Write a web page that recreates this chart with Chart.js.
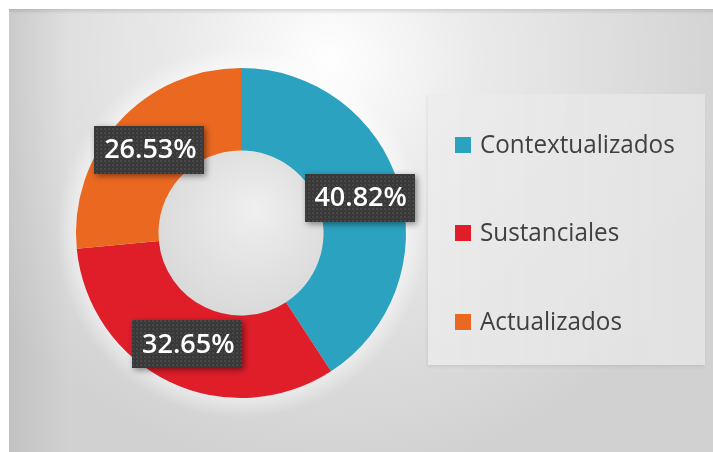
<!DOCTYPE html>
<html>
<head>
<meta charset="utf-8">
<script src="https://cdn.jsdelivr.net/npm/chart.js@4/dist/chart.umd.min.js"></script>
<style>
  html, body { margin: 0; padding: 0; background: #fff; }
  #wrap { position: relative; width: 713px; height: 452px; }
  #legend {
    position: absolute; left: 428px; top: 94px; width: 277px; height: 271px;
    background: linear-gradient(to right, rgba(236,236,236,0.75), rgba(230,230,230,0.8));
    box-shadow: -1px 2px 3px rgba(0,0,0,0.07);
    font-family: "Open Sans", sans-serif; color: #404040;
  }
  .item { position: absolute; left: 27px; height: 30px; display: flex; align-items: center; font-size: 25px; white-space: nowrap; }
  .item span:last-child { display: inline-block; transform: scaleX(0.97); transform-origin: left center; }
  .sw { width: 16px; height: 16px; margin-right: 9px; margin-top: 4px; }
</style>
</head>
<body>
<div id="wrap">
  <canvas id="c" width="713" height="452"></canvas>
  <div id="legend"></div>
</div>
<script>
// Datos: 49 elementos en total
const categorias = ['Contextualizados', 'Sustanciales', 'Actualizados'];
const valores = [20, 16, 13];
const colores = ['#2ba2c0', '#df1e2a', '#ea6820'];

// fondo gris con degradado, como la diapositiva original
const fondo = {
    id: 'fondo',
    beforeDraw(chart) {
        const ctx = chart.ctx;
        ctx.save();
        ctx.fillStyle = '#fff';
        ctx.fillRect(0, 0, 713, 452);
        ctx.fillStyle = '#d1d1d1';
        ctx.fillRect(9, 9, 704, 443);
        let g = ctx.createRadialGradient(330, 60, 0, 330, 60, 420);
        g.addColorStop(0, 'rgba(255,255,255,1)');
        g.addColorStop(0.35, 'rgba(255,255,255,0.55)');
        g.addColorStop(1, 'rgba(255,255,255,0)');
        ctx.fillStyle = g;
        ctx.fillRect(9, 9, 704, 443);
        g = ctx.createLinearGradient(9, 0, 70, 0);
        g.addColorStop(0, 'rgba(0,0,0,0.07)');
        g.addColorStop(1, 'rgba(0,0,0,0)');
        ctx.fillStyle = g;
        ctx.fillRect(9, 9, 61, 443);
        g = ctx.createLinearGradient(0, 9, 0, 14);
        g.addColorStop(0, 'rgba(0,0,0,0.12)');
        g.addColorStop(1, 'rgba(0,0,0,0)');
        ctx.fillStyle = g;
        ctx.fillRect(9, 9, 704, 5);

        // halo claro alrededor del anillo
        const arc = chart.getDatasetMeta(0).data[0];
        if (arc) {
            const r = arc.outerRadius;
            g = ctx.createRadialGradient(arc.x, arc.y, r - 2, arc.x, arc.y, r + 20);
            g.addColorStop(0, 'rgba(255,255,255,0.5)');
            g.addColorStop(1, 'rgba(255,255,255,0)');
            ctx.fillStyle = g;
            ctx.beginPath();
            ctx.arc(arc.x, arc.y, r + 20, 0, Math.PI * 2);
            ctx.fill();
            // sombra suave dentro del hueco
            const ri = arc.innerRadius;
            g = ctx.createRadialGradient(arc.x + 15, arc.y - 25, 0, arc.x, arc.y, ri);
            g.addColorStop(0, 'rgba(0,0,0,0.02)');
            g.addColorStop(1, 'rgba(0,0,0,0.09)');
            ctx.fillStyle = g;
            ctx.beginPath();
            ctx.arc(arc.x, arc.y, ri, 0, Math.PI * 2);
            ctx.fill();
        }
        ctx.restore();
    }
};

function patron(ctx) {
    const p = document.createElement('canvas');
    p.width = 4; p.height = 4;
    const c = p.getContext('2d');
    c.fillStyle = '#383838';
    c.fillRect(0, 0, 4, 4);
    c.fillStyle = '#474747';
    c.fillRect(0, 0, 2, 2);
    c.fillRect(2, 2, 1, 1);
    return ctx.createPattern(p, 'repeat');
}

// etiquetas en cajas oscuras sobre el centro de cada sector
const etiquetas = {
    id: 'etiquetas',
    afterDatasetsDraw(chart) {
        const ctx = chart.ctx;
        const total = valores.reduce((a, b) => a + b, 0);
        const pat = patron(ctx);
        chart.getDatasetMeta(0).data.forEach((arc, i) => {
            const p = arc.tooltipPosition();
            const txt = (valores[i] / total * 100).toFixed(2) + '%';
            const w = 110, h = 48;
            ctx.save();
            ctx.shadowColor = 'rgba(0,0,0,0.45)';
            ctx.shadowBlur = 6;
            ctx.shadowOffsetX = 2;
            ctx.shadowOffsetY = 2;
            ctx.fillStyle = pat;
            ctx.fillRect(Math.round(p.x - w / 2), Math.round(p.y - h / 2), w, h);
            ctx.restore();
            ctx.save();
            ctx.font = '600 27px "Open Sans"';
            ctx.fillStyle = '#fff';
            ctx.textAlign = 'center';
            ctx.textBaseline = 'middle';
            ctx.fillText(txt, p.x + 1, p.y + 1);
            ctx.restore();
        });
    }
};

const chart = new Chart(document.getElementById('c'), {
    type: 'doughnut',
    data: {
        labels: categorias,
        datasets: [{
            data: valores,
            backgroundColor: colores,
            borderWidth: 0
        }]
    },
    options: {
        responsive: false,
        animation: false,
        devicePixelRatio: 1,
        cutout: '50%',
        layout: { padding: { left: 76, right: 307, top: 68, bottom: 54 } },
        plugins: {
            legend: { display: false },
            tooltip: { enabled: false }
        }
    },
    plugins: [fondo, etiquetas]
});

// leyenda
const leg = document.getElementById('legend');
const tops = [34, 122, 211];
categorias.forEach((c, i) => {
    const d = document.createElement('div');
    d.className = 'item';
    d.style.top = tops[i] + 'px';
    d.innerHTML = '<span class="sw" style="background:' + colores[i] + '"></span><span>' + c + '</span>';
    leg.appendChild(d);
});
</script>
</body>
</html>
